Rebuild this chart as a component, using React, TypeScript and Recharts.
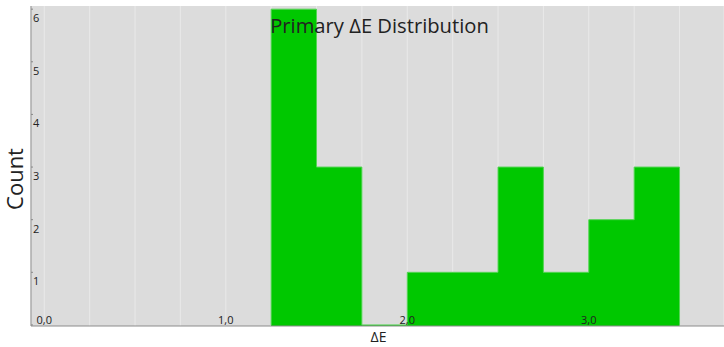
import { AreaChart, Area, XAxis, YAxis, CartesianGrid } from 'recharts'

// histogram bins (left edges) and counts
const binEdges = [1.25, 1.5, 1.75, 2.0, 2.25, 2.5, 2.75, 3.0, 3.25, 3.5]
const binCounts = [6, 3, 0, 1, 1, 3, 1, 2, 3]
const xTicks = [0, 0.25, 0.5, 0.75, 1.0, 1.25, 1.5, 1.75, 2.0, 2.25, 2.5, 2.75, 3.0, 3.25, 3.5]
const yTicks = [0, 1, 2, 3, 4, 5, 6]

const data = [
  { edge: binEdges[0], count: 0 },
  ...binEdges.map((edge, i) => ({ edge, count: i < binCounts.length ? binCounts[i] : 0 })),
]

const font = '"Open Sans", sans-serif'
const plotLeft = 31
const plotBottom = 326

function XTick({ x, payload }: any) {
  const v = payload.value
  if (Math.abs(v - Math.round(v)) > 1e-6) return null
  return (
    <text x={x} y={plotBottom - 2.5} textAnchor="middle" fontSize={11} fill="#222" fontFamily={font}>
      {v.toFixed(1).replace('.', ',')}
    </text>
  )
}

function YTick({ y, payload }: any) {
  return (
    <g>
      <line x1={plotLeft} x2={plotLeft + 2} y1={y} y2={y} stroke="#888" />
      {payload.value !== 0 && (
        <text x={plotLeft + 2} y={y + 13} textAnchor="start" fontSize={11} fill="#222" fontFamily={font}>
          {payload.value}
        </text>
      )}
    </g>
  )
}

export default function App() {
  return (
    <div style={{ position: 'absolute', left: 0, top: 0, width: 724, height: 347 }}>
      <AreaChart width={724} height={347} data={data} margin={{ top: 6, right: 0, left: 0, bottom: 0 }}>
        <CartesianGrid horizontal={false} stroke="#e9e9e9" fill="#dcdcdc" />
        <XAxis
          type="number"
          dataKey="edge"
          domain={[-0.073, 3.745]}
          ticks={xTicks}
          allowDataOverflow
          height={21}
          tickLine={false}
          axisLine={{ stroke: '#8c8c8c' }}
          tick={<XTick />}
          interval={0}
          label={({ viewBox }: any) => (
            <text x={viewBox.x + viewBox.width / 2 + 1} y={viewBox.y + 16} textAnchor="middle" fontSize={14} fill="#222" fontFamily={font}>
              ΔE
            </text>
          )}
        />
        <XAxis
          xAxisId="top"
          orientation="top"
          type="number"
          domain={[-0.073, 3.745]}
          height={0}
          tick={false}
          tickLine={false}
          axisLine={{ stroke: '#8c8c8c' }}
        />
        <YAxis
          type="number"
          domain={[-0.02, 6.06]}
          ticks={yTicks}
          allowDataOverflow
          width={31}
          tickLine={false}
          axisLine={{ stroke: '#8c8c8c' }}
          tick={<YTick />}
          interval={0}
          label={() => (
            <text x={23} y={179} transform="rotate(-90 23 179)" textAnchor="middle" fontSize={22} fill="#222" fontFamily={font}>
              Count
            </text>
          )}
        />
        <Area
          type="stepAfter"
          dataKey="count"
          baseValue="dataMin"
          stroke="#55d455"
          strokeWidth={1}
          fill="#00c800"
          fillOpacity={1}
          isAnimationActive={false}
          dot={false}
          activeDot={false}
        />
      </AreaChart>
      <svg width={724} height={347} style={{ position: 'absolute', left: 0, top: 0, pointerEvents: 'none' }}>
        <text x={379.5} y={32.5} textAnchor="middle" fontSize={20.2} fill="#222" fontFamily={font}>
          Primary ΔE Distribution
        </text>
      </svg>
    </div>
  )
}
